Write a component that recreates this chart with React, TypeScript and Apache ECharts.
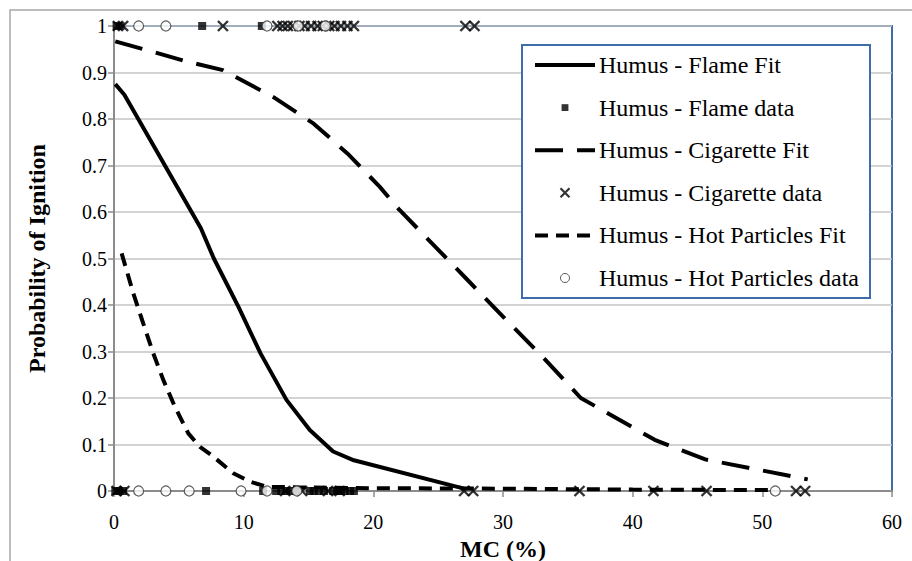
import React, { useEffect, useRef } from "react";
import * as echarts from "echarts";

// ---- Data ----
const xTicks = [0, 10, 20, 30, 40, 50, 60];
const yTicks = [0, 0.1, 0.2, 0.3, 0.4, 0.5, 0.6, 0.7, 0.8, 0.9, 1];

const seriesNames = [
  "Humus - Flame Fit",
  "Humus - Flame data",
  "Humus - Cigarette Fit",
  "Humus - Cigarette data",
  "Humus - Hot Particles Fit",
  "Humus - Hot Particles data",
];

const flameFitX = [0.1, 0.8, 6.7, 7.7, 9.6, 11.3, 13.3, 15.1, 16.9, 18.5, 27.0];
const flameFitY = [0.875, 0.852, 0.565, 0.5, 0.396, 0.296, 0.196, 0.131, 0.085, 0.066, 0.005];

const cigFitX = [0.1, 2.3, 5.7, 8.4, 9.2, 12.3, 15.4, 18.0, 20.5, 22.0, 27.4, 30.0, 33.0, 36.0, 41.7, 45.6, 53.5];
const cigFitY = [0.967, 0.95, 0.923, 0.905, 0.893, 0.847, 0.79, 0.726, 0.654, 0.605, 0.45, 0.375, 0.29, 0.2, 0.11, 0.068, 0.025];

const hpFitX = [0.59, 1.49, 2.26, 3.03, 3.8, 4.7, 5.73, 6.63, 7.66, 9.2, 10.5, 11.8, 14.0, 20.0, 30.0, 40.0, 50.5];
const hpFitY = [0.511, 0.425, 0.36, 0.296, 0.239, 0.181, 0.124, 0.095, 0.074, 0.038, 0.02, 0.009, 0.008, 0.006, 0.005, 0.003, 0.002];

// data points: MC values where ignition occurred (1) or did not (0)
const flameIgnited = [0.2, 0.5, 6.8, 11.4];
const flameNotIgnited = [0.1, 0.4, 0.7, 7.1, 11.5, 12.5, 12.9, 13.3, 13.6, 14.0, 15.1, 15.4, 15.8, 16.2, 16.9, 17.2, 17.5, 17.8, 18.2, 18.5];

const cigIgnited = [0.3, 0.7, 8.4, 12.6, 13.0, 13.4, 13.8, 14.3, 14.7, 15.2, 15.7, 16.1, 16.6, 17.0, 17.5, 18.0, 18.5, 27.1, 27.8];
const cigNotIgnited = [0.2, 0.8, 13.2, 14.5, 16.5, 17.4, 27.0, 27.7, 35.9, 41.6, 45.7, 52.6, 53.3];

const hpIgnited = [1.9, 4.0, 11.8, 14.2, 16.3];
const hpNotIgnited = [1.9, 4.0, 5.8, 9.8, 11.8, 14.1, 51.0];

// ---- Helpers ----
const pairs = (xs: number[], ys: number[]) => xs.map((x, i) => [x, ys[i]]);
const binary = (ones: number[], zeros: number[]) => [
  ...zeros.map((x) => [x, 0]),
  ...ones.map((x) => [x, 1]),
];

const FONT = "'Liberation Serif', 'Times New Roman', Times, serif";
const BLUE = "#3E6DA9";
const AXIS_GRAY = "#8C8C8C";
const GRID_GRAY = "#C4C4C4";
const X_SYMBOL = "path://M0,0L10,10M0,10L10,0";
const SQUARE_ICON = "path://M0,0M10,10M1.2,1.2h7.6v7.6h-7.6z";
const HIDDEN_DOT = { color: "transparent", borderWidth: 0, opacity: 0 };

export default function App() {
  const ref = useRef<HTMLDivElement>(null);

  useEffect(() => {
    if (!ref.current) return;
    const chart = echarts.init(ref.current, null, { renderer: "svg" });

    const option: any = {
      animation: false,
      backgroundColor: "#fff",
      textStyle: { fontFamily: FONT },
      grid: {
        left: 114,
        right: 20,
        top: 26,
        bottom: 70,
        containLabel: false,
        outerBoundsMode: "none",
        show: true,
        borderColor: BLUE,
        borderWidth: 2,
        backgroundColor: "transparent",
      },
      graphic: [
        {
          type: "rect",
          silent: true,
          z: 0,
          shape: { x: 10, y: 10, width: 1000, height: 1000 },
          style: { fill: "none", stroke: "#A8A8A8", lineWidth: 1.5 },
        },
        {
          type: "rect",
          silent: true,
          z: 3,
          shape: { x: 522, y: 45, width: 348, height: 253 },
          style: { fill: "#fff", stroke: BLUE, lineWidth: 2 },
        },
      ],
      legend: {
        show: true,
        orient: "vertical",
        left: 533,
        top: 53,
        padding: 0,
        itemWidth: 60,
        itemHeight: 9,
        itemGap: 18.6,
        z: 5,
        selectedMode: false,
        textStyle: { fontFamily: FONT, fontSize: 24, color: "#000", padding: [0, 0, 0, -1] },
        lineStyle: { width: 4 },
        data: [
          { name: seriesNames[0], itemStyle: HIDDEN_DOT },
          { name: seriesNames[1], icon: SQUARE_ICON },
          { name: seriesNames[2], itemStyle: HIDDEN_DOT },
          { name: seriesNames[3], itemStyle: { borderWidth: 2.2 } },
          { name: seriesNames[4], itemStyle: HIDDEN_DOT },
          { name: seriesNames[5], itemStyle: { borderWidth: 1 } },
        ],
      },
      xAxis: {
        type: "value",
        min: xTicks[0],
        max: xTicks[xTicks.length - 1],
        interval: 10,
        name: "MC (%)",
        nameLocation: "middle",
        nameGap: 45,
        nameTextStyle: { fontFamily: FONT, fontSize: 24, fontWeight: "bold", color: "#000" },
        axisLine: { show: true, onZero: false, lineStyle: { color: AXIS_GRAY, width: 2 } },
        axisTick: { show: true, inside: false, length: 6, lineStyle: { color: AXIS_GRAY, width: 1.5 } },
        axisLabel: { fontFamily: FONT, fontSize: 20, color: "#000", margin: 21 },
        splitLine: { show: false },
      },
      yAxis: {
        type: "value",
        min: yTicks[0],
        max: yTicks[yTicks.length - 1],
        interval: 0.1,
        name: "Probability of Ignition",
        nameLocation: "middle",
        nameGap: 65,
        nameTextStyle: { fontFamily: FONT, fontSize: 24, fontWeight: "bold", color: "#000" },
        axisLine: { show: true, onZero: false, lineStyle: { color: AXIS_GRAY, width: 2 } },
        axisTick: { show: true, inside: false, length: 6, lineStyle: { color: AXIS_GRAY, width: 1.5 } },
        axisLabel: {
          fontFamily: FONT,
          fontSize: 20,
          color: "#000",
          margin: 7,
          formatter: (v: number) => String(Number(v.toFixed(1))),
        },
        splitLine: { show: true, lineStyle: { color: GRID_GRAY, width: 1.5 } },
      },
      series: [
        {
          name: seriesNames[0],
          type: "line",
          data: pairs(flameFitX, flameFitY),
          symbol: "none",
          smooth: false,
          color: "#000",
          lineStyle: { color: "#000", width: 4, type: "solid" },
          z: 2,
        },
        {
          name: seriesNames[1],
          type: "scatter",
          data: binary(flameIgnited, flameNotIgnited),
          symbol: "rect",
          symbolSize: 8,
          clip: false,
          itemStyle: { color: "#000" },
          z: 2,
        },
        {
          name: seriesNames[2],
          type: "line",
          data: pairs(cigFitX, cigFitY),
          symbol: "none",
          smooth: false,
          color: "#000",
          lineStyle: { color: "#000", width: 4, type: [28, 14] },
          z: 2,
        },
        {
          name: seriesNames[3],
          type: "scatter",
          data: binary(cigIgnited, cigNotIgnited),
          symbol: X_SYMBOL,
          symbolSize: 10,
          clip: false,
          itemStyle: { color: "transparent", borderColor: "#000", borderWidth: 2.4 },
          z: 2,
        },
        {
          name: seriesNames[4],
          type: "line",
          data: pairs(hpFitX, hpFitY),
          symbol: "none",
          smooth: false,
          color: "#000",
          lineStyle: { color: "#000", width: 4, type: [13, 8] },
          z: 2,
        },
        {
          name: seriesNames[5],
          type: "scatter",
          data: binary(hpIgnited, hpNotIgnited),
          symbol: "circle",
          symbolSize: 10,
          clip: false,
          itemStyle: { color: "#fff", borderColor: "#333", borderWidth: 1.2 },
          z: 2,
        },
      ],
    };

    chart.setOption(option);
    return () => chart.dispose();
  }, []);

  return (
    <div
      ref={ref}
      style={{ position: "fixed", left: 0, top: 0, width: 912, height: 561, background: "#fff" }}
    />
  );
}
